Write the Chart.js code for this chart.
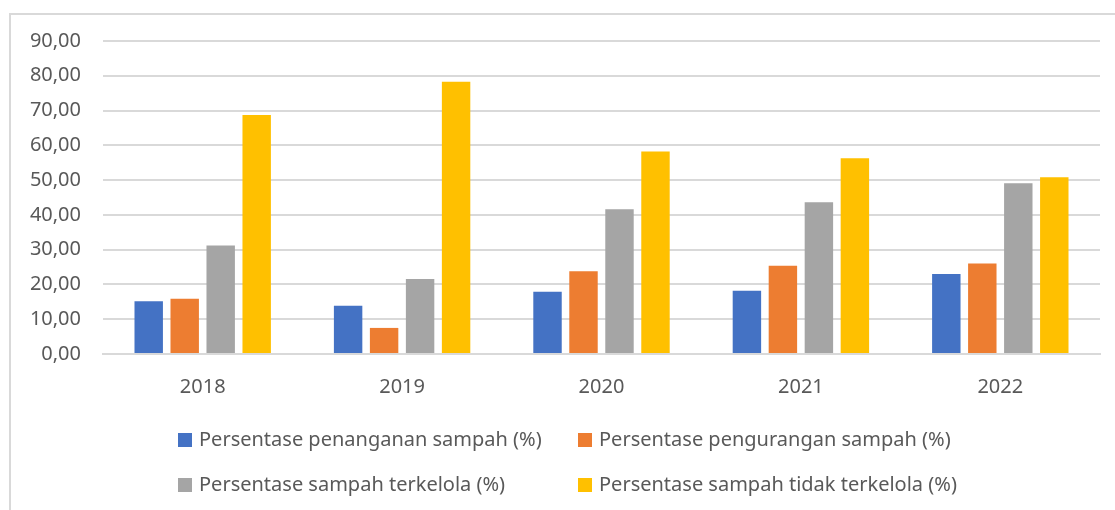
<!DOCTYPE html>
<html>
<head>
<meta charset="utf-8">
<script src="https://cdn.jsdelivr.net/npm/chart.js@4"></script>
<style>
  html, body { margin: 0; padding: 0; background: #fff; }
  #wrap { position: relative; width: 1115px; height: 510px; }
</style>
</head>
<body>
<div id="wrap"><canvas id="grafico" width="1115" height="510"></canvas></div>
<script>
const tahun = ['2018', '2019', '2020', '2021', '2022'];
const penanganan = [15.2, 13.9, 17.9, 18.2, 23.0];
const pengurangan = [15.9, 7.5, 23.8, 25.4, 26.0];
const terkelola = [31.2, 21.6, 41.6, 43.6, 49.1];
const tidakTerkelola = [68.7, 78.3, 58.2, 56.3, 50.8];
const namaSeri = [
    'Persentase penanganan sampah (%)',
    'Persentase pengurangan sampah (%)',
    'Persentase sampah terkelola (%)',
    'Persentase sampah tidak terkelola (%)'
];
const warna = ['#4472C4', '#ED7D31', '#A5A5A5', '#FFC000'];
const yMin = 0, yMax = 90, yStep = 10;

const fontFamily = "'Noto Sans', 'Open Sans', sans-serif";
const textColor = '#595959';
const gridColor = '#d9d9d9';

// Leyenda en dos columnas, como en el original
const legendaPlugin = {
    id: 'legenda',
    beforeDraw(chart) {
        const ctx = chart.ctx;
        ctx.save();
        ctx.strokeStyle = gridColor;
        ctx.lineWidth = 2;
        ctx.beginPath();
        ctx.moveTo(10, 510);
        ctx.lineTo(10, 14);
        ctx.lineTo(1115, 14);
        ctx.stroke();
        ctx.restore();
    },
    afterDraw(chart) {
        const ctx = chart.ctx;
        const cols = [178, 578];
        const rows = [440, 485];
        ctx.save();
        ctx.font = '20px ' + fontFamily;
        ctx.textBaseline = 'middle';
        chart.data.datasets.forEach((ds, i) => {
            const x = cols[i % 2];
            const y = rows[Math.floor(i / 2)];
            ctx.fillStyle = ds.backgroundColor;
            ctx.fillRect(x, y - 7, 14, 14);
            ctx.fillStyle = textColor;
            ctx.fillText(ds.label, x + 21, y);
        });
        ctx.restore();
    }
};

const datasets = [penanganan, pengurangan, terkelola, tidakTerkelola].map((valores, i) => ({
    label: namaSeri[i],
    data: valores,
    backgroundColor: warna[i],
    borderWidth: 0,
    barPercentage: 0.79,
    categoryPercentage: 0.722
}));

new Chart(document.getElementById('grafico').getContext('2d'), {
    type: 'bar',
    data: { labels: tahun, datasets: datasets },
    options: {
        responsive: false,
        animation: false,
        layout: { padding: { top: 41, right: 15, bottom: 116, left: 0 } },
        scales: {
            x: {
                grid: { display: false },
                border: { color: gridColor, width: 2 },
                ticks: { color: textColor, font: { family: fontFamily, size: 20 }, padding: 13 },
                afterFit(scale) { scale.height = 40; }
            },
            y: {
                min: yMin,
                max: yMax,
                ticks: {
                    stepSize: yStep,
                    color: textColor,
                    font: { family: fontFamily, size: 20 },
                    padding: 22,
                    callback: v => v.toFixed(2).replace('.', ',')
                },
                grid: { color: gridColor, lineWidth: 2, drawTicks: false },
                border: { display: false },
                afterFit(scale) { scale.width = 103; }
            }
        },
        plugins: {
            legend: { display: false },
            tooltip: { enabled: false }
        }
    },
    plugins: [legendaPlugin]
});
</script>
</body>
</html>
